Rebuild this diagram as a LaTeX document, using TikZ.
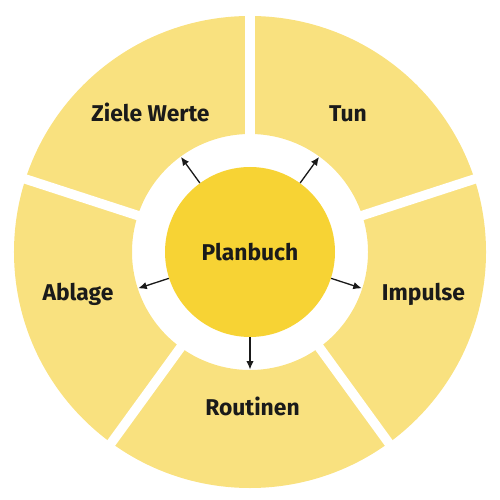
\documentclass[tikz,border=0pt]{standalone}
\usepackage{fontspec}
\setmainfont{Fira Sans}
\usetikzlibrary{arrows.meta}
\definecolor{pSeg}{HTML}{F9E17F}
\definecolor{pCore}{HTML}{F7D334}
\definecolor{pText}{HTML}{1A1A1A}

\begin{document}
\begin{tikzpicture}[
  seglabel/.style={font=\bfseries\fontsize{13}{15}\selectfont, text=pText, anchor=base},
  gap/.style={white, line width=0.19cm},
  spoke/.style={-{Latex[length=1.7mm,width=1.5mm]}, line width=0.75pt, draw=pText},
]
  \useasboundingbox (-5,-4.96) rectangle (5,5.04);
  % ring of five fields
  \fill[pSeg, even odd rule] (0,0) circle (4.72) (0,0) circle (2.36);
  \foreach \a in {18,90,162,234,306}
    \draw[gap] (\a:2.2) -- (\a:4.9);
  % core
  \node[circle, fill=pCore, minimum size=3.4cm, inner sep=0pt,
        font=\bfseries\fontsize{13}{15}\selectfont, text=pText] (plan) at (0,0) {Planbuch};
  \node[seglabel] (ziele) at (-1.99, 2.6) {Ziele Werte};
  \node[seglabel] (tun) at (1.96, 2.6) {Tun};
  \node[seglabel] (impulse) at (3.47,-0.98) {Impulse};
  \node[seglabel] (routinen) at (0.05,-3.26) {Routinen};
  \node[seglabel] (ablage) at (-3.44,-0.98) {Ablage};
  % arrows out to the fields
  \foreach \a/\n in {126/zieletip, 54/tuntip, -18/impulsetip, -90/routinentip, 198/ablagetip}{
    \coordinate (\n) at (\a:2.35);
    \draw[spoke] (plan.\a) -- (\n);
  }
\end{tikzpicture}
\end{document}
